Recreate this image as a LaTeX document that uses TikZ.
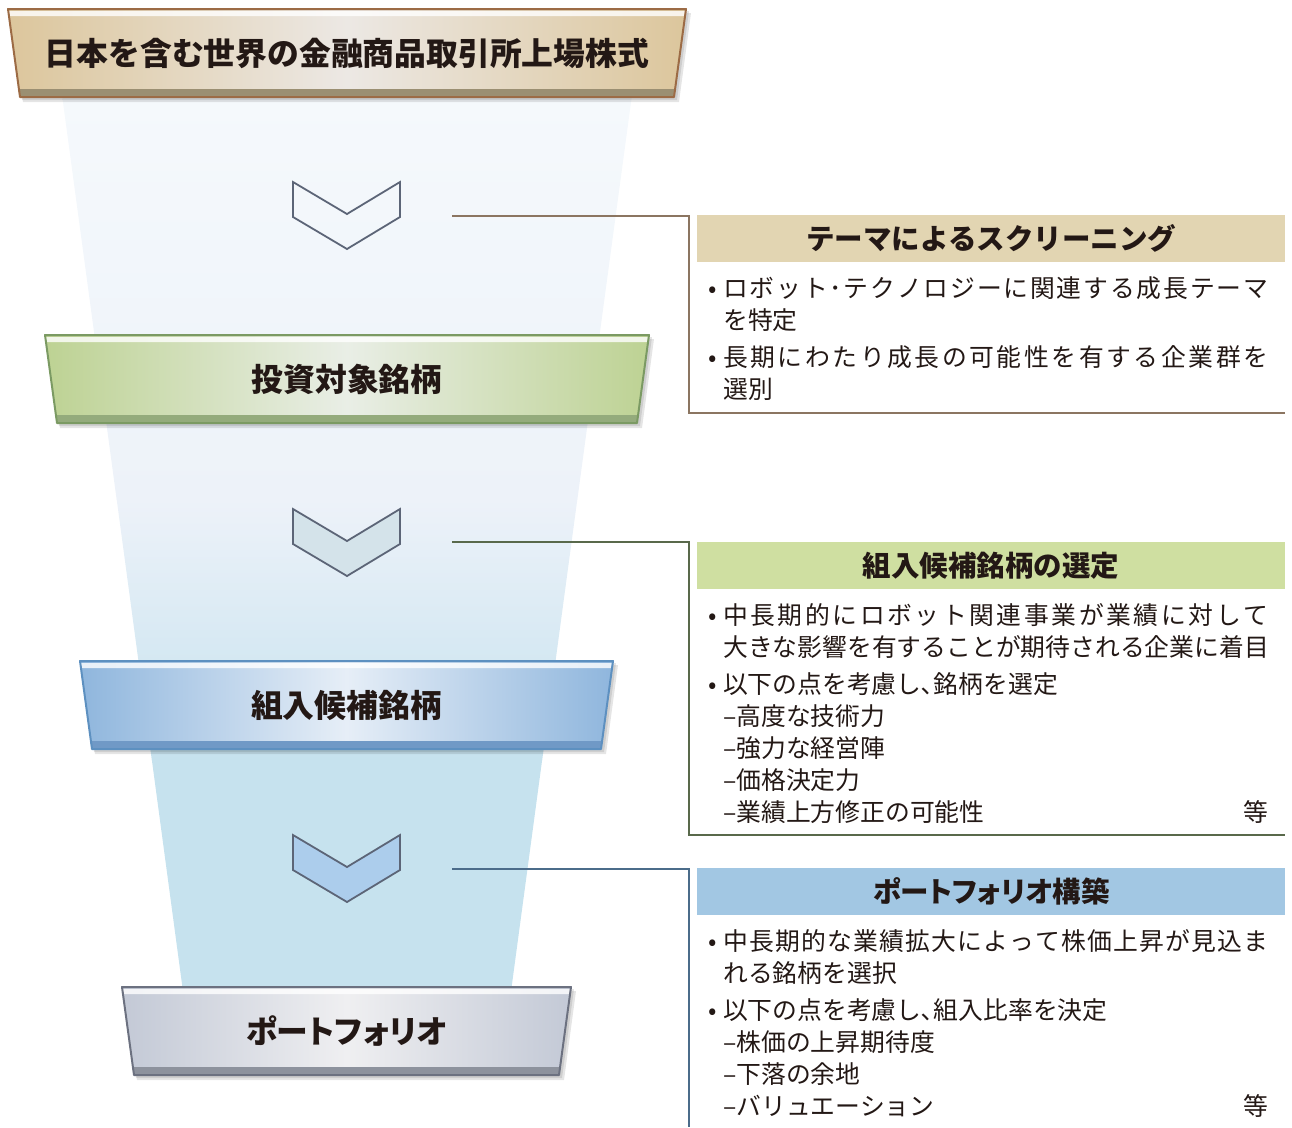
\documentclass[tikz,border=0pt]{standalone}
\usepackage{fontspec}
\setmainfont{Noto Sans CJK JP}

\definecolor{inktext}{HTML}{231815}
\definecolor{boxAedge}{HTML}{DCC69C}
\definecolor{boxAmid}{HTML}{ECE8E4}
\definecolor{boxAline}{HTML}{9C6B45}
\definecolor{boxAbase}{HTML}{9B8F72}
\definecolor{boxBedge}{HTML}{BDD293}
\definecolor{boxBmid}{HTML}{E9EEE6}
\definecolor{boxBline}{HTML}{7B9A63}
\definecolor{boxBbase}{HTML}{94AB7C}
\definecolor{boxCedge}{HTML}{8FB6DD}
\definecolor{boxCmid}{HTML}{E6EEF7}
\definecolor{boxCline}{HTML}{5D90C0}
\definecolor{boxCbase}{HTML}{7099C6}
\definecolor{boxDedge}{HTML}{C3C9D6}
\definecolor{boxDmid}{HTML}{EFEFF1}
\definecolor{boxDline}{HTML}{6C7180}
\definecolor{boxDbase}{HTML}{8D929D}
\definecolor{headA}{HTML}{E2D5B2}
\definecolor{headB}{HTML}{CFDFA1}
\definecolor{headC}{HTML}{A2C7E3}
\definecolor{lineA}{HTML}{8B7561}
\definecolor{lineB}{HTML}{59694B}
\definecolor{lineC}{HTML}{4B6C8A}
\definecolor{chevline}{HTML}{5C6577}
\definecolor{chevB}{HTML}{D4E3EA}
\definecolor{chevC}{HTML}{ACCDEC}
\definecolor{funTop}{HTML}{F5F9FC}
\definecolor{funMid}{HTML}{EDF2F9}
\definecolor{funLow}{HTML}{C6E2EE}

\newcommand{\bul}{\makebox[15pt][l]{•}}
\newcommand{\ind}{\hspace*{15pt}}
\newcommand{\kana}{\addfontfeatures{RawFeature=+palt}}
\def\spreadchars#1{#1\spreadnext}
\def\spreadnext#1{\ifx#1\relax\else\hfil#1\expandafter\spreadnext\fi}
\newcommand{\jline}[1]{\hbox to 545pt{\spreadchars#1\relax}}

\newcommand{\stagebox}[6]{%
  \fill[black,opacity=0.10] (#2+3,#1+4) -- (#3+5,#1+4) -- (#3-7,#1+93) -- (#2+15,#1+93) -- cycle;
  \fill[black,opacity=0.10] (#2+2,#1+2) -- (#3+3,#1+2) -- (#3-9,#1+91) -- (#2+14,#1+91) -- cycle;
  \shade[left color=#4edge, right color=#4edge, middle color=#4mid] (#2,#1) -- (#3,#1) -- (#3-12,#1+88) -- (#2+12,#1+88) -- cycle;
  \fill[white,opacity=0.8] (#2+1,#1+2) -- (#3-1,#1+2) -- (#3-1.5,#1+7) -- (#2+1.5,#1+7) -- cycle;
  \fill[#4base] (#2+11,#1+80) -- (#3-11,#1+80) -- (#3-12,#1+88) -- (#2+12,#1+88) -- cycle;
  \draw[#4line, line width=2, line join=round] (#2,#1) -- (#3,#1) -- (#3-12,#1+88) -- (#2+12,#1+88) -- cycle;
  \node[boxlabel] (#5) at ({(#2+#3)/2},#1+44) {#6};
}

\begin{document}
\begin{tikzpicture}[x=1pt,y=-1pt,
  boxlabel/.style={font=\fontsize{31.8}{31.8}\selectfont\bfseries, text=inktext, inner sep=0},
  paneltitle/.style={font=\fontsize{28.5}{28.5}\selectfont\bfseries, text=inktext, inner sep=0,
    minimum width=588, minimum height=47, anchor=north west},
  bodytext/.style={font=\fontsize{24.8}{24.8}\selectfont, text=inktext, inner sep=0, anchor=base west},
  chev/.style={draw=chevline, line width=1.8, line join=miter}]
  \useasboundingbox (0,0) rectangle (1292,1127);

  \shade[top color=funTop, bottom color=funMid] (62,95) -- (632,95) -- (577.3,500) -- (116.7,500) -- cycle;
  \shade[top color=funMid, bottom color=funLow] (116.7,499.5) -- (577.3,499.5) -- (542.2,760) -- (151.8,760) -- cycle;
  \fill[funLow] (151.8,759.5) -- (542.2,759.5) -- (511.2,990) -- (182.8,990) -- cycle;

  \stagebox{9}{8}{686}{boxA}{market}{日本を含む世界の金融商品取引所上場株式}
  \stagebox{335}{45}{649}{boxB}{universe}{投資対象銘柄}
  \stagebox{661}{80}{613}{boxC}{candidate}{組入候補銘柄}
  \stagebox{987}{122}{571}{boxD}{portfolio}{\kana ポートフォリオ}

  \foreach \dy/\fc in {0/none, 327/chevB, 653/chevC} {
    \draw[chev, fill=\fc] (293,182+\dy) -- (347,214+\dy) -- (400,182+\dy) -- (400,217+\dy)
      -- (347,249+\dy) -- (293,217+\dy) -- cycle;
  }

  \coordinate (sA) at (452,216);
  \coordinate (cA) at (689,413);
  \coordinate (eA) at (1285,413);
  \coordinate (sB) at (452,542);
  \coordinate (cB) at (689,835);
  \coordinate (eB) at (1285,835);
  \coordinate (sC) at (452,869);
  \coordinate (cC) at (689,1127);
  \draw[lineA, line width=1.5] (sA) -| (cA) -- (eA);
  \draw[lineB, line width=1.5] (sB) -| (cB) -- (eB);
  \draw[lineC, line width=1.5] (sC) -| (cC);

  \node[paneltitle, fill=headA] (screen) at (697,215) {テーマによるスクリーニング};
  \node[paneltitle, fill=headB] (select) at (697,542) {組入候補銘柄の選定};
  \node[paneltitle, fill=headC] (build) at (697,868) {\kana ポートフォリオ構築};

  \foreach \y/\txt [count=\i] in {297/{\bul\jline{ロボット･テクノロジーに関連する成長テーマ}},
      329/{\ind を特定},
      366/{\bul\jline{長期にわたり成長の可能性を有する企業群を}},
      398/{\ind 選別}} {
    \node[bodytext] (screen\i) at (708,\y) {\txt};
  }
  \foreach \y/\txt [count=\i] in {624/{\bul\jline{中長期的にロボット関連事業が業績に対して}},
      656/{\ind\jline{大きな影響を有することが期待される企業に着目}},
      693/{\bul 以下の点を考慮し､銘柄を選定},
      725/{\ind –高度な技術力},
      757/{\ind –強力な経営陣},
      789/{\ind –価格決定力},
      821/{\ind\makebox[545pt][l]{–業績上方修正の可能性\hfill 等}}} {
    \node[bodytext] (select\i) at (708,\y) {\txt};
  }
  \foreach \y/\txt [count=\i] in {950/{\bul\jline{中長期的な業績拡大によって株価上昇が見込ま}},
      982/{\ind れる銘柄を選択},
      1019/{\bul 以下の点を考慮し､組入比率を決定},
      1051/{\ind –株価の上昇期待度},
      1083/{\ind –下落の余地},
      1115/{\ind\makebox[545pt][l]{–バリュエーション\hfill 等}}} {
    \node[bodytext] (build\i) at (708,\y) {\txt};
  }
\end{tikzpicture}
\end{document}
